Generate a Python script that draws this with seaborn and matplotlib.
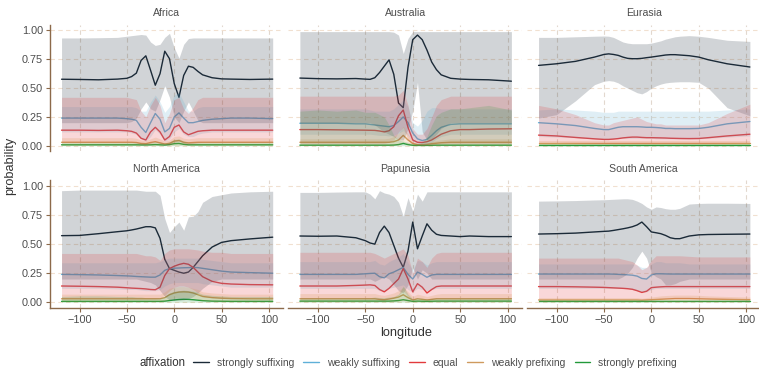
import matplotlib
matplotlib.use("Agg")
import matplotlib.pyplot as plt
from matplotlib.lines import Line2D
import pandas as pd
import seaborn as sns

# ---------------------------------------------------------------- data
LON = [-119, -100, -80, -60, -50, -45, -40, -35, -30, -25, -20, -15, -10,
       -5, 0, 5, 10, 15, 20, 25, 30, 40, 50, 60, 80, 104]
REGIONS = ["Africa", "Australia", "Eurasia",
           "North America", "Papunesia", "South America"]
AFFIXATION = ["strongly suffixing", "weakly suffixing", "equal",
              "weakly prefixing", "strongly prefixing"]
X_TICKS = [-100, -50, 0, 50, 100]
Y_TICKS = [0.0, 0.25, 0.5, 0.75, 1.0]
Y_TICK_LABELS = ["0.00", "0.25", "0.50", "0.75", "1.00"]

# order of series in each block: strongly suff., weakly suff., equal, weakly pref., strongly pref.
AFRICA_MEAN = [
    [.577, .575, .572, .578, .585, .60, .63, .74, .78, .655, .525, .625, .82, .755, .54, .42, .61, .69, .68, .645, .615, .59, .58, .578, .575, .578],
    [.24, .24, .24, .24, .235, .23, .22, .16, .115, .20, .28, .23, .12, .15, .25, .285, .24, .20, .20, .21, .22, .23, .235, .24, .24, .235],
    [.135, .135, .133, .135, .13, .125, .11, .065, .05, .12, .16, .12, .05, .08, .16, .18, .12, .095, .11, .125, .13, .135, .135, .135, .135, .135],
    [.03, .03, .03, .03, .03, .03, .028, .02, .018, .028, .035, .025, .015, .02, .04, .045, .03, .025, .028, .03, .03, .03, .03, .03, .03, .03],
    [.008, .008, .008, .008, .008, .008, .008, .007, .007, .008, .01, .008, .006, .01, .018, .02, .012, .008, .008, .008, .008, .008, .008, .008, .008, .008],
]
AFRICA_LOW = [
    [.20, .20, .20, .20, .20, .21, .24, .32, .38, .32, .30, .40, .52, .42, .25, .20, .30, .38, .30, .22, .20, .20, .20, .20, .20, .20],
    [.12, .12, .12, .12, .12, .11, .10, .06, .04, .08, .14, .10, .04, .06, .12, .15, .10, .08, .08, .10, .11, .12, .12, .12, .12, .12],
    [.03, .03, .03, .03, .03, .03, .025, .01, .01, .02, .03, .02, .01, .01, .03, .04, .02, .015, .02, .025, .03, .03, .03, .03, .03, .03],
    [.005, .005, .005, .005, .005, .005, .005, .005, .005, .005, .005, .005, .005, .005, .005, .005, .005, .005, .005, .005, .005, .005, .005, .005, .005, .005],
    [0, 0, 0, 0, 0, 0, 0, 0, 0, 0, 0, 0, 0, 0, 0, 0, 0, 0, 0, 0, 0, 0, 0, 0, 0, 0],
]
AFRICA_HIGH = [
    [.935, .935, .937, .94, .95, .955, .96, .965, .96, .90, .87, .88, .94, .975, .85, .76, .88, .93, .935, .935, .935, .935, .935, .935, .935, .935],
    [.34, .34, .34, .34, .34, .34, .33, .30, .30, .38, .44, .38, .29, .34, .44, .46, .38, .30, .30, .33, .34, .34, .34, .34, .34, .34],
    [.42, .42, .42, .42, .42, .41, .40, .30, .25, .35, .42, .35, .20, .28, .40, .42, .32, .28, .33, .40, .42, .42, .42, .42, .42, .42],
    [.07, .07, .07, .07, .07, .07, .065, .05, .045, .06, .075, .06, .04, .05, .08, .085, .065, .06, .065, .07, .07, .07, .07, .07, .07, .07],
    [.03, .03, .03, .03, .03, .03, .03, .025, .025, .03, .035, .03, .025, .035, .055, .06, .04, .03, .03, .03, .03, .03, .03, .03, .03, .03],
]

AUSTRALIA_MEAN = [
    [.587, .582, .58, .583, .578, .576, .59, .635, .69, .745, .62, .37, .33, .68, .92, .96, .92, .83, .726, .66, .615, .585, .578, .575, .572, .56],
    [.195, .195, .195, .19, .19, .185, .18, .175, .17, .165, .175, .21, .25, .20, .11, .06, .045, .055, .09, .13, .16, .185, .19, .19, .19, .19],
    [.14, .14, .138, .136, .135, .134, .133, .128, .12, .13, .165, .26, .31, .16, .05, .03, .028, .035, .05, .075, .10, .13, .14, .14, .145, .147],
    [.03, .03, .03, .03, .03, .03, .03, .03, .03, .03, .035, .05, .09, .05, .02, .01, .01, .012, .018, .022, .026, .03, .03, .03, .03, .03],
    [.005, .005, .005, .005, .005, .005, .005, .005, .005, .005, .006, .01, .02, .01, .004, .003, .003, .003, .004, .005, .005, .005, .005, .005, .005, .005],
]
AUSTRALIA_LOW = [
    [.20, .20, .20, .20, .20, .20, .18, .15, .12, .10, .08, .05, .05, .15, .30, .55, .12, .05, .06, .10, .15, .20, .20, .20, .20, .20],
    [.10, .10, .10, .10, .10, .10, .095, .09, .09, .085, .09, .11, .13, .09, .04, .02, .01, .015, .03, .06, .08, .10, .10, .10, .10, .10],
    [.02, .02, .02, .02, .02, .02, .02, .02, .02, .03, .05, .12, .16, .05, .01, .005, .005, .005, .01, .015, .02, .02, .02, .02, .02, .02],
    [.005, .005, .005, .005, .005, .005, .005, .005, .005, .005, .005, .01, .03, .01, .003, .002, .002, .002, .003, .004, .005, .005, .005, .005, .005, .005],
    [0, 0, 0, 0, 0, 0, 0, 0, 0, 0, 0, 0, 0, 0, 0, 0, 0, 0, 0, 0, 0, 0, 0, 0, 0, 0],
]
AUSTRALIA_HIGH = [
    [.99, .99, .99, .99, .99, .99, .99, .99, .99, .99, .985, .96, .80, .93, .99, .99, .99, .99, .99, .99, .99, .99, .99, .99, .99, .99],
    [.32, .32, .32, .32, .32, .31, .30, .30, .30, .30, .32, .36, .40, .34, .20, .17, .22, .30, .33, .33, .32, .32, .32, .32, .32, .32],
    [.43, .43, .43, .43, .43, .43, .43, .43, .43, .43, .43, .44, .48, .35, .15, .10, .10, .15, .25, .35, .40, .43, .43, .43, .43, .43],
    [.06, .06, .06, .06, .06, .06, .06, .06, .06, .065, .08, .11, .17, .10, .035, .02, .02, .025, .035, .045, .05, .06, .06, .06, .06, .06],
    [.30, .31, .30, .31, .29, .29, .29, .27, .25, .18, .09, .05, .04, .03, .02, .02, .03, .08, .18, .26, .29, .32, .32, .33, .35, .31],
]

EURASIA_MEAN = [
    [.697, .711, .732, .769, .792, .797, .792, .784, .769, .758, .755, .755, .758, .764, .769, .775, .781, .787, .79, .79, .787, .781, .769, .746, .711, .683],
    [.20, .19, .175, .15, .14, .14, .15, .16, .165, .165, .165, .165, .163, .16, .16, .158, .155, .15, .15, .148, .148, .148, .15, .16, .19, .21],
    [.092, .085, .072, .06, .055, .055, .058, .062, .068, .072, .075, .075, .072, .07, .07, .069, .068, .067, .065, .064, .063, .062, .063, .07, .085, .10],
    [.02, .02, .02, .02, .02, .02, .02, .02, .02, .02, .02, .02, .02, .02, .02, .02, .02, .02, .02, .02, .02, .02, .02, .02, .02, .02],
    [.005, .005, .005, .005, .005, .005, .005, .005, .005, .005, .005, .005, .005, .005, .005, .005, .005, .005, .005, .005, .005, .005, .005, .005, .005, .005],
]
EURASIA_LOW = [
    [.24, .27, .39, .53, .56, .565, .56, .545, .52, .50, .48, .46, .45, .47, .50, .52, .535, .545, .55, .553, .555, .555, .55, .50, .33, .26],
    [.08, .075, .07, .06, .055, .055, .06, .065, .065, .065, .065, .065, .065, .065, .065, .06, .06, .06, .06, .06, .06, .06, .06, .065, .075, .085],
    [.03, .03, .025, .02, .02, .02, .02, .02, .02, .02, .02, .02, .02, .02, .02, .02, .02, .02, .02, .02, .02, .02, .02, .02, .025, .03],
    [.005, .005, .005, .005, .005, .005, .005, .005, .005, .005, .005, .005, .005, .005, .005, .005, .005, .005, .005, .005, .005, .005, .005, .005, .005, .005],
    [0, 0, 0, 0, 0, 0, 0, 0, 0, 0, 0, 0, 0, 0, 0, 0, 0, 0, 0, 0, 0, 0, 0, 0, 0, 0],
]
EURASIA_HIGH = [
    [.94, .94, .945, .95, .952, .95, .94, .92, .90, .89, .885, .885, .885, .885, .89, .90, .91, .925, .935, .945, .95, .955, .95, .94, .915, .905],
    [.31, .32, .31, .30, .29, .29, .29, .30, .30, .30, .30, .30, .30, .30, .30, .30, .30, .30, .30, .30, .30, .30, .30, .30, .31, .32],
    [.35, .32, .27, .20, .18, .18, .20, .21, .22, .23, .24, .25, .23, .21, .20, .19, .19, .18, .18, .18, .18, .18, .18, .20, .28, .36],
    [.045, .045, .045, .045, .045, .045, .045, .045, .045, .045, .045, .045, .045, .045, .045, .045, .045, .045, .045, .045, .045, .045, .045, .045, .045, .045],
    [.015, .015, .015, .015, .015, .015, .015, .015, .015, .015, .015, .015, .015, .015, .015, .015, .015, .015, .015, .015, .015, .015, .015, .015, .015, .015],
]

NORTH_AMERICA_MEAN = [
    [.573, .575, .59, .607, .615, .622, .63, .64, .65, .65, .64, .55, .37, .29, .275, .26, .25, .26, .30, .35, .40, .475, .515, .53, .545, .56],
    [.24, .238, .235, .23, .227, .225, .222, .22, .218, .216, .216, .235, .275, .29, .293, .295, .297, .298, .30, .298, .292, .28, .268, .26, .255, .25],
    [.14, .138, .135, .13, .125, .122, .12, .118, .115, .11, .108, .13, .23, .29, .31, .325, .335, .327, .30, .26, .22, .18, .163, .157, .152, .15],
    [.03, .03, .03, .03, .03, .03, .03, .03, .03, .03, .03, .03, .04, .065, .08, .088, .09, .088, .08, .065, .05, .04, .035, .032, .03, .03],
    [.008, .008, .008, .008, .008, .008, .008, .008, .008, .008, .008, .008, .01, .015, .02, .024, .026, .025, .022, .018, .014, .01, .009, .008, .008, .008],
]
NORTH_AMERICA_LOW = [
    [.20, .20, .20, .20, .20, .20, .20, .19, .18, .17, .15, .10, .05, .02, .02, .02, .02, .03, .05, .08, .12, .18, .20, .20, .20, .20],
    [.12, .12, .12, .115, .11, .11, .11, .105, .10, .10, .10, .11, .14, .16, .17, .17, .17, .17, .17, .17, .16, .15, .14, .13, .13, .13],
    [.03, .03, .03, .03, .03, .03, .03, .03, .03, .03, .03, .035, .06, .10, .13, .14, .14, .13, .11, .08, .05, .04, .035, .035, .035, .035],
    [.008, .008, .008, .008, .008, .008, .008, .008, .008, .008, .008, .008, .012, .025, .035, .04, .04, .04, .035, .025, .015, .01, .008, .008, .008, .008],
    [0, 0, 0, 0, 0, 0, 0, 0, 0, 0, 0, 0, 0, 0, 0, 0, 0, 0, 0, 0, 0, 0, 0, 0, 0, 0],
]
NORTH_AMERICA_HIGH = [
    [.96, .965, .965, .965, .965, .965, .965, .96, .955, .955, .955, .92, .72, .60, .65, .69, .62, .735, .74, .78, .86, .91, .925, .94, .95, .955],
    [.34, .34, .34, .34, .34, .34, .34, .34, .34, .34, .34, .35, .37, .38, .38, .38, .38, .38, .38, .38, .37, .36, .35, .34, .34, .34],
    [.42, .42, .42, .42, .42, .42, .42, .41, .40, .40, .39, .36, .42, .45, .46, .46, .46, .46, .455, .45, .44, .43, .43, .42, .42, .42],
    [.07, .07, .07, .07, .07, .07, .07, .07, .07, .07, .07, .07, .09, .12, .13, .135, .135, .13, .12, .11, .09, .08, .075, .07, .07, .07],
    [.05, .055, .055, .05, .05, .05, .045, .045, .04, .04, .04, .04, .05, .08, .095, .10, .105, .10, .095, .085, .07, .06, .055, .05, .05, .05],
]

PAPUNESIA_MEAN = [
    [.57, .568, .57, .555, .53, .51, .50, .60, .655, .60, .49, .38, .30, .44, .69, .46, .57, .675, .62, .585, .575, .57, .565, .57, .565, .565],
    [.24, .24, .24, .24, .245, .248, .25, .22, .21, .245, .26, .28, .30, .24, .20, .26, .24, .215, .235, .24, .24, .24, .24, .24, .24, .24],
    [.14, .14, .14, .145, .148, .15, .145, .11, .09, .12, .16, .20, .29, .20, .09, .16, .13, .08, .11, .135, .14, .14, .14, .14, .14, .14],
    [.03, .03, .03, .03, .03, .03, .03, .025, .022, .028, .035, .045, .065, .04, .02, .03, .025, .02, .025, .03, .03, .03, .03, .03, .03, .03],
    [.01, .01, .01, .01, .01, .01, .01, .01, .01, .01, .012, .015, .022, .015, .008, .01, .009, .008, .009, .01, .01, .01, .01, .01, .01, .01],
]
PAPUNESIA_LOW = [
    [.20, .20, .20, .20, .20, .20, .18, .20, .22, .20, .15, .10, .08, .15, .30, .20, .28, .25, .20, .20, .20, .20, .20, .20, .20, .20],
    [.12, .12, .12, .12, .12, .12, .12, .10, .10, .12, .13, .14, .15, .11, .09, .12, .11, .10, .11, .12, .12, .12, .12, .12, .12, .12],
    [.03, .03, .03, .03, .03, .03, .03, .02, .02, .03, .04, .06, .10, .05, .02, .04, .03, .02, .025, .03, .03, .03, .03, .03, .03, .03],
    [.005, .005, .005, .005, .005, .005, .005, .005, .005, .005, .005, .008, .012, .006, .003, .005, .004, .003, .004, .005, .005, .005, .005, .005, .005, .005],
    [0, 0, 0, 0, 0, 0, 0, 0, 0, 0, 0, 0, 0, 0, 0, 0, 0, 0, 0, 0, 0, 0, 0, 0, 0, 0],
]
PAPUNESIA_HIGH = [
    [.945, .945, .948, .95, .95, .93, .89, .96, .94, .93, .91, .86, .74, .90, .78, .93, .87, .95, .95, .95, .95, .95, .95, .95, .95, .95],
    [.35, .35, .35, .35, .35, .35, .36, .33, .32, .35, .37, .39, .42, .34, .28, .36, .35, .32, .34, .35, .35, .35, .35, .35, .35, .35],
    [.43, .43, .43, .43, .43, .43, .42, .40, .38, .40, .42, .44, .46, .40, .25, .38, .35, .30, .38, .42, .43, .43, .43, .43, .43, .43],
    [.075, .075, .075, .075, .075, .075, .075, .065, .06, .07, .08, .10, .13, .09, .05, .07, .06, .05, .06, .07, .075, .075, .075, .075, .075, .075],
    [.04, .04, .04, .04, .04, .04, .045, .04, .04, .045, .05, .07, .14, .07, .03, .04, .035, .03, .035, .04, .04, .04, .04, .04, .04, .04],
]

SOUTH_AMERICA_MEAN = [
    [.587, .59, .595, .605, .61, .612, .618, .625, .632, .64, .65, .665, .69, .65, .605, .598, .59, .575, .555, .547, .547, .57, .58, .583, .585, .587],
    [.243, .243, .243, .243, .243, .243, .242, .24, .238, .236, .233, .225, .205, .20, .235, .245, .245, .244, .243, .243, .243, .243, .243, .243, .243, .243],
    [.135, .135, .133, .13, .128, .126, .124, .122, .12, .117, .112, .10, .085, .095, .126, .13, .133, .135, .135, .135, .135, .135, .135, .135, .135, .135],
    [.02, .02, .02, .02, .02, .02, .02, .02, .02, .02, .02, .02, .018, .02, .022, .024, .026, .028, .03, .032, .032, .032, .03, .028, .025, .022],
    [.008, .008, .008, .008, .008, .008, .008, .008, .008, .008, .008, .008, .008, .008, .008, .008, .008, .008, .008, .008, .008, .008, .008, .008, .008, .008],
]
SOUTH_AMERICA_LOW = [
    [.20, .20, .20, .20, .20, .20, .20, .20, .22, .25, .30, .38, .44, .38, .25, .22, .20, .15, .15, .16, .18, .20, .20, .20, .20, .20],
    [.12, .12, .12, .12, .12, .12, .12, .12, .12, .12, .11, .10, .09, .09, .11, .12, .12, .12, .12, .12, .12, .12, .12, .12, .12, .12],
    [.03, .03, .03, .03, .03, .03, .03, .03, .03, .03, .03, .03, .025, .025, .03, .03, .03, .03, .03, .03, .03, .03, .03, .03, .03, .03],
    [.005, .005, .005, .005, .005, .005, .005, .005, .005, .005, .005, .005, .005, .005, .005, .005, .005, .005, .005, .005, .005, .005, .005, .005, .005, .005],
    [0, 0, 0, 0, 0, 0, 0, 0, 0, 0, 0, 0, 0, 0, 0, 0, 0, 0, 0, 0, 0, 0, 0, 0, 0, 0],
]
SOUTH_AMERICA_HIGH = [
    [.87, .872, .875, .88, .882, .884, .886, .888, .89, .89, .885, .87, .85, .82, .80, .82, .815, .805, .80, .80, .808, .845, .85, .852, .852, .85],
    [.33, .33, .33, .33, .33, .33, .33, .33, .33, .33, .33, .32, .30, .30, .33, .35, .35, .34, .34, .34, .34, .33, .33, .33, .33, .33],
    [.38, .38, .38, .38, .38, .38, .38, .38, .37, .36, .35, .32, .28, .30, .36, .40, .40, .40, .40, .40, .40, .395, .39, .39, .39, .39],
    [.04, .04, .04, .04, .04, .04, .04, .04, .04, .04, .04, .04, .035, .04, .045, .05, .055, .058, .06, .062, .062, .062, .06, .055, .05, .045],
    [.02, .02, .02, .02, .02, .02, .02, .02, .02, .02, .02, .02, .02, .02, .02, .02, .02, .02, .02, .02, .02, .02, .02, .02, .02, .02],
]

# ---------------------------------------------------------------- styling
LINE_COLORS = ["#1b2a38", "#5fb0d8", "#e23a3c", "#cf9a5e", "#22993a"]
FILL_COLORS = ["#1b2a38", "#62aed0", "#e23a3c", "#d8944a", "#3aa048"]
AXIS_BROWN = "#8c6a4a"
GRID_X_COLOR = "#e2d8ce"
GRID_Y_COLOR = "#f1e0d0"
TEXT_GREY = "#4d4d4d"

sns.set_theme(style="white")
plt.rcParams["font.family"] = ["Liberation Sans", "DejaVu Sans"]

BLOCKS = {
    "Africa": (AFRICA_MEAN, AFRICA_LOW, AFRICA_HIGH),
    "Australia": (AUSTRALIA_MEAN, AUSTRALIA_LOW, AUSTRALIA_HIGH),
    "Eurasia": (EURASIA_MEAN, EURASIA_LOW, EURASIA_HIGH),
    "North America": (NORTH_AMERICA_MEAN, NORTH_AMERICA_LOW, NORTH_AMERICA_HIGH),
    "Papunesia": (PAPUNESIA_MEAN, PAPUNESIA_LOW, PAPUNESIA_HIGH),
    "South America": (SOUTH_AMERICA_MEAN, SOUTH_AMERICA_LOW, SOUTH_AMERICA_HIGH),
}
rows = []
for reg in REGIONS:
    mean, low, high = BLOCKS[reg]
    for k, aff in enumerate(AFFIXATION):
        for j, lon in enumerate(LON):
            rows.append((reg, aff, lon, mean[k][j], low[k][j], high[k][j]))
df = pd.DataFrame(rows, columns=["region", "affixation", "longitude",
                                 "probability", "low", "high"])

W, H = 759, 373
COL_X = [(50.0, 283.3), (288.3, 522.0), (527.0, 760.5)]
ROW_Y = [(24.7, 151.5), (180.2, 308.1)]
STRIP_Y = [13.3, 169.3]

fig = plt.figure(figsize=(W / 100, H / 100), dpi=100)
fig.patch.set_facecolor("white")

for i, reg in enumerate(REGIONS):
    r, c = divmod(i, 3)
    x0, x1 = COL_X[c]
    y0, y1 = ROW_Y[r]
    ax = fig.add_axes([x0 / W, 1 - y1 / H, (x1 - x0) / W, (y1 - y0) / H])
    sub = df[df["region"] == reg]
    sns.lineplot(data=sub, x="longitude", y="probability", hue="affixation",
                 hue_order=AFFIXATION, palette=LINE_COLORS, linewidth=1.0,
                 errorbar=None, legend=False, ax=ax, zorder=2)
    for k, aff in enumerate(AFFIXATION):
        s = sub[sub["affixation"] == aff]
        ax.fill_between(s["longitude"], s["low"], s["high"],
                        color=FILL_COLORS[k], alpha=0.2, linewidth=0, zorder=3)
    ax.set_xlim(-131.2, 115.2)
    ax.set_ylim(-0.05, 1.05)
    ax.set_xticks(X_TICKS)
    ax.set_yticks(Y_TICKS)
    ax.set_yticklabels(Y_TICK_LABELS)
    ax.set_xlabel("")
    ax.set_ylabel("")
    ax.set_facecolor("white")
    ax.grid(True, axis="x", color=GRID_X_COLOR, linestyle=(0, (4, 3)),
            linewidth=0.8)
    ax.grid(True, axis="y", color=GRID_Y_COLOR, linestyle=(0, (4, 3)),
            linewidth=0.8)
    ax.set_axisbelow(True)
    for sp in ax.spines.values():
        sp.set_visible(False)
    ax.tick_params(axis="both", labelsize=7.8, labelcolor=TEXT_GREY,
                   color=AXIS_BROWN, width=0.8, length=3, pad=2)
    if c == 0:
        ax.spines["left"].set_visible(True)
        ax.spines["left"].set_color(AXIS_BROWN)
        ax.spines["left"].set_linewidth(1.0)
        ax.tick_params(axis="y", left=True, labelleft=True)
    else:
        ax.tick_params(axis="y", left=False, labelleft=False)
    if r == 1:
        ax.spines["bottom"].set_visible(True)
        ax.spines["bottom"].set_color(AXIS_BROWN)
        ax.spines["bottom"].set_linewidth(1.0)
        ax.tick_params(axis="x", bottom=True, labelbottom=True)
    else:
        ax.tick_params(axis="x", bottom=False, labelbottom=False)
    fig.text((x0 + x1) / 2 / W, 1 - STRIP_Y[r] / H, reg, ha="center",
             va="center", fontsize=7.6, color=TEXT_GREY)

fig.text(10 / W, 1 - 166 / H, "probability", rotation=90, ha="center",
         va="center", fontsize=9.2, color="#333333")
fig.text(406 / W, 1 - 333 / H, "longitude", ha="center", va="center",
         fontsize=9.2, color="#333333")

handles = [Line2D([], [], color=col, linewidth=1.0) for col in LINE_COLORS]
fig.text(140 / W, 1 - 363 / H, "affixation", ha="left", va="center",
         fontsize=8.3, color="#333333")
fig.legend(handles, AFFIXATION, loc="center left",
           bbox_to_anchor=(193 / W, 1 - 363 / H), ncol=5, frameon=False,
           fontsize=7.5, handlelength=1.5, handletextpad=0.8,
           columnspacing=0.85, borderpad=0, borderaxespad=0,
           labelcolor=TEXT_GREY)

fig.savefig("out.png", dpi=100, facecolor="white")
